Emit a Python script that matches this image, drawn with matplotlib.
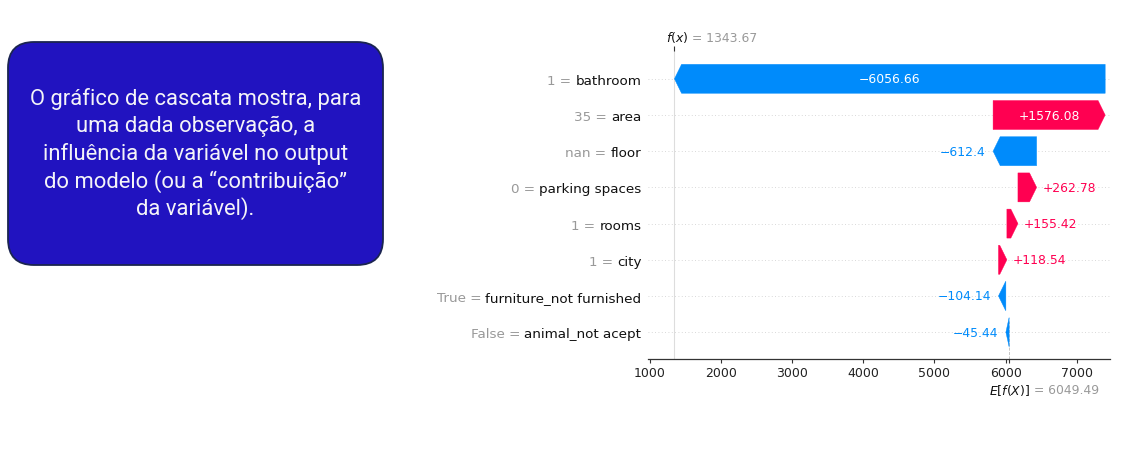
import matplotlib
matplotlib.use("Agg")
import matplotlib.pyplot as plt
import numpy as np
from matplotlib.patches import FancyBboxPatch

# ---------------- data ----------------
features = ["bathroom", "area", "floor", "parking spaces", "rooms", "city",
            "furniture_not furnished", "animal_not acept"]
feature_values = ["1", "35", "nan", "0", "1", "1", "True", "False"]
shap_values = [-6056.66, 1576.08, -612.4, 262.78, 155.42, 118.54, -104.14, -45.44]
base_value = 6049.49
xtick_values = [1000, 2000, 3000, 4000, 5000, 6000, 7000]
box_lines = ["O gráfico de cascata mostra, para",
             "uma dada observação, a",
             "influência da variável no output",
             "do modelo (ou a “contribuição”",
             "da variável)."]

RED = "#ff0051"
BLUE = "#008bfb"

W, H = 1131, 460
fig = plt.figure(figsize=(W / 100, H / 100), dpi=100)
fig.patch.set_facecolor("white")

# ---------------- left text box ----------------
bg = fig.add_axes([0, 0, 1, 1])
bg.set_xlim(0, W)
bg.set_ylim(H, 0)
bg.axis("off")
box = FancyBboxPatch((8, 43), 375, 223, boxstyle="round,pad=0,rounding_size=26",
                     fc="#2113c0", ec="#1b2550", lw=1.3)
bg.add_patch(box)

fig.canvas.draw()
renderer = fig.canvas.get_renderer()
probe = bg.text(0, 0, box_lines[0], fontsize=14, family="Roboto")
w14 = probe.get_window_extent(renderer).width
probe.remove()
box_fs = 14 * 332.0 / w14
baselines = [105, 132.5, 160, 187.5, 215]
for line, yb in zip(box_lines, baselines):
    bg.text(195.5, yb, line, ha="center", va="baseline", color="#f4f4f8",
            fontsize=box_fs, family="Roboto")

# ---------------- waterfall axes ----------------
px_per_unit = (1076.7 - 650.0) / 6000.0
ax_l, ax_r, ax_t, ax_b = 648.3, 1110.0, 52.0, 360.0
ax = fig.add_axes([ax_l / W, 1 - ax_b / H, (ax_r - ax_l) / W, (ax_b - ax_t) / H])
xmin = 1000 - (650 - ax_l) / px_per_unit
xmax = 1000 + (ax_r - 650) / px_per_unit
ax.set_xlim(xmin, xmax)
row_sp = (333 - 78) / 7.0
n = len(features)
ax.set_ylim(-(ax_b - 333) / row_sp, (n - 1) + (80 - ax_t) / row_sp)

for s in ["left", "right", "top"]:
    ax.spines[s].set_visible(False)
ax.spines["bottom"].set_color("#333333")
ax.spines["bottom"].set_linewidth(0.9)

rows = np.arange(n)[::-1]  # features[0] at top
starts = {}
cur = base_value
for i in range(n - 1, -1, -1):
    starts[i] = cur
    cur = cur + shap_values[i]
fx = cur

for r in range(n):
    ax.axhline(r, color="#cccccc", lw=0.6, dashes=(1, 3), zorder=-1)

ax.axvline(fx, color="#dddddd", lw=0.8, zorder=-1)
ax.axvline(base_value, 0, 1.0 / n, color="#bbbbbb", lw=0.6, ls="--", zorder=-1)

hl = 100.0
bar_w = 0.8
fig.canvas.draw()
for i in range(n):
    v = shap_values[i]
    y = rows[i]
    st = starts[i]
    if v >= 0:
        col = RED
        ax.arrow(st, y, max(v - hl, 1e-6), 0, head_length=min(v, hl), width=bar_w,
                 head_width=bar_w, length_includes_head=False, color=col, lw=0.3)
        lab = "+" + f"{v:g}"
    else:
        col = BLUE
        ax.arrow(st, y, -max(-v - hl, 1e-6), 0, head_length=min(-v, hl), width=bar_w,
                 head_width=bar_w, length_includes_head=False, color=col, lw=0.3)
        lab = "\u2212" + f"{-v:g}"
    mid = st + v / 2.0
    t = ax.text(mid, y, lab, ha="center", va="center", color="white", fontsize=8.9)
    tw = t.get_window_extent(renderer).width
    bw = abs(v) * px_per_unit
    if tw + 6 > bw:
        t.remove()
        end = st + v
        if v >= 0:
            ax.annotate(lab, xy=(end, y), xytext=(4.3, 0), textcoords="offset points",
                        ha="left", va="center", color=col, fontsize=8.9)
        else:
            ax.annotate(lab, xy=(end, y), xytext=(-5.2, 0), textcoords="offset points",
                        ha="right", va="center", color=col, fontsize=8.9)

# y tick labels: black feature names, gray "value =" prefix to their left
ax.set_yticks(list(rows))
ax.set_yticklabels(features, fontsize=9.7, color="#111111")
ax.tick_params(axis="y", length=0, pad=(ax_l - 641.5) * 0.72)

ax.set_xticks(xtick_values)
ax.set_xticklabels([str(v) for v in xtick_values], fontsize=9, color="#222222")
ax.set_xticks([base_value], minor=True)
ax.tick_params(axis="x", which="both", length=2.6, width=0.8, color="#333333", pad=2.5)

# top tick at f(x)
ax2 = ax.twiny()
ax2.set_xlim(xmin, xmax)
ax2.set_xticks([fx])
ax2.set_xticklabels([""])
for s in ["left", "right", "top", "bottom"]:
    ax2.spines[s].set_visible(False)
ax2.tick_params(axis="x", length=3.5, width=0.8, color="#333333")

fig.canvas.draw()
space_px = 9.7 / 72 * 100 * 0.318
for tl, fv, y in zip(ax.yaxis.get_majorticklabels(), feature_values, rows):
    bb = tl.get_window_extent(renderer)
    x_pix = bb.x0 - space_px
    ax.annotate(f"{fv} =", xy=(xmin, y), xytext=(x_pix - ax.transData.transform((xmin, y))[0], 0),
                textcoords="offset pixels", ha="right", va="center_baseline",
                fontsize=9.7, color="#999999", annotation_clip=False)

# f(x) label
ax.annotate("$f(x)$", xy=(fx, 1), xycoords=("data", "axes fraction"),
            xytext=(-8.5 * 0.72, 10.3 * 0.72), textcoords="offset points",
            ha="left", va="baseline", fontsize=8.9, color="#111111")
ax.annotate(f"= {fx:.2f}", xy=(fx, 1), xycoords=("data", "axes fraction"),
            xytext=(17.2 * 0.72, 10.3 * 0.72), textcoords="offset points",
            ha="left", va="baseline", fontsize=8.9, color="#999999")
# E[f(X)] label
ax.annotate("$E[f(X)]$", xy=(base_value, 0), xycoords=("data", "axes fraction"),
            xytext=(-20.5 * 0.72, -34.5 * 0.72), textcoords="offset points",
            ha="left", va="baseline", fontsize=8.9, color="#111111")
ax.annotate(f"= {base_value:.2f}", xy=(base_value, 0), xycoords=("data", "axes fraction"),
            xytext=(25.2 * 0.72, -34.5 * 0.72), textcoords="offset points",
            ha="left", va="baseline", fontsize=8.9, color="#999999")

fig.savefig("out.png", dpi=100, facecolor="white")
